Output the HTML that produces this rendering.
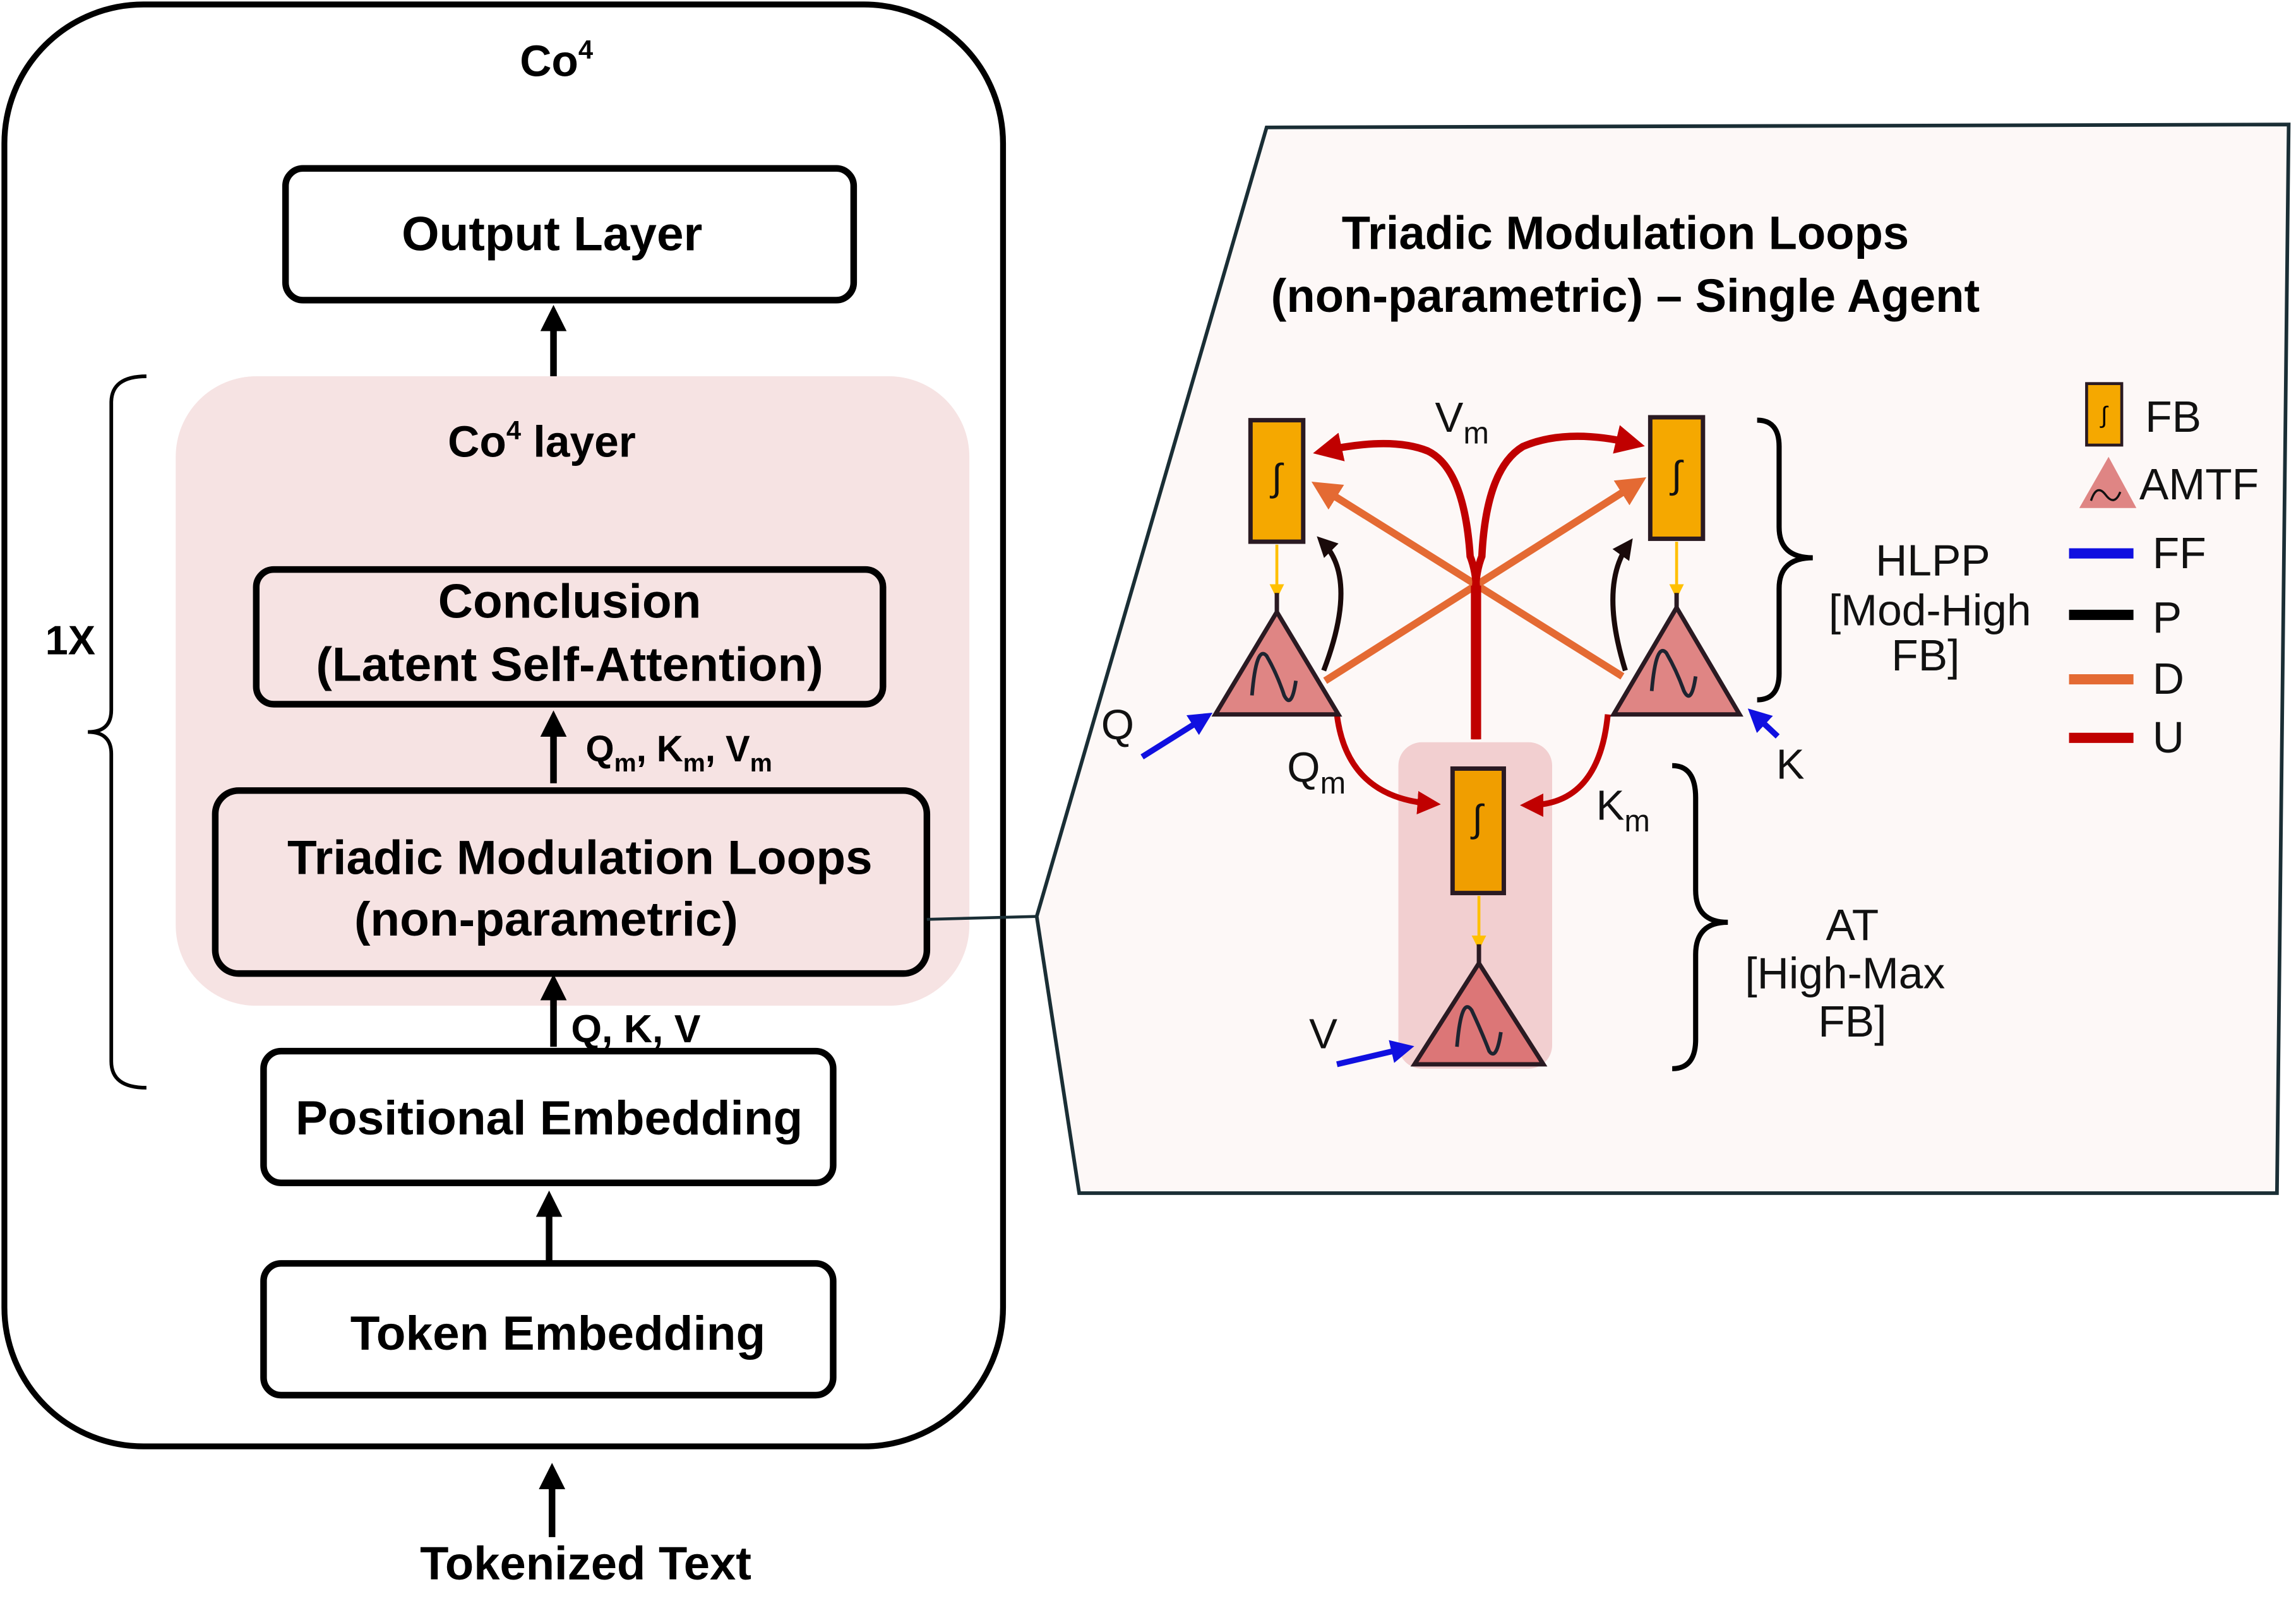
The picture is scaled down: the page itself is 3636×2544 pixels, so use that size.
<!DOCTYPE html>
<html><head><meta charset="utf-8"><style>html,body{margin:0;padding:0;background:#fff}svg{display:block}</style></head>
<body>
<svg width="3636" height="2544" viewBox="0 0 1568 1097" xmlns="http://www.w3.org/2000/svg" font-family="Liberation Sans, DejaVu Sans, sans-serif">
<defs>
<marker id="ab" markerWidth="4" markerHeight="4" refX="2.5" refY="2" orient="auto" markerUnits="strokeWidth"><path d="M0,0 L4,2 L0,4 z" fill="#000"/></marker>
<marker id="ar" markerWidth="4" markerHeight="4" refX="2.5" refY="2" orient="auto" markerUnits="strokeWidth"><path d="M0,0 L4,2 L0,4 z" fill="#c00000"/></marker>
<marker id="ao" markerWidth="4" markerHeight="4" refX="2.5" refY="2" orient="auto" markerUnits="strokeWidth"><path d="M0,0 L4,2 L0,4 z" fill="#e46a33"/></marker>
<marker id="ak" markerWidth="4" markerHeight="4" refX="2.5" refY="2" orient="auto" markerUnits="strokeWidth"><path d="M0,0 L4,2 L0,4 z" fill="#1a0a0a"/></marker>
<marker id="abl" markerWidth="4" markerHeight="4" refX="2.5" refY="2" orient="auto" markerUnits="strokeWidth"><path d="M0,0 L4,2 L0,4 z" fill="#1010e0"/></marker>
<marker id="ay" markerWidth="5" markerHeight="5" refX="3" refY="2.5" orient="auto" markerUnits="strokeWidth"><path d="M0,0 L5,2.5 L0,5 z" fill="#ffc000"/></marker>
</defs>
<rect width="1568" height="1097" fill="#fff"/>
<!-- left panel -->
<rect x="3" y="3" width="682" height="985" rx="95" fill="#fff" stroke="#000" stroke-width="4"/>
<text x="380" y="52" font-size="30" font-weight="bold" text-anchor="middle">Co<tspan font-size="18" dy="-12">4</tspan></text>
<rect x="195" y="115" width="388" height="90" rx="12" fill="#fff" stroke="#000" stroke-width="4.5"/>
<text x="377" y="171" font-size="33" font-weight="bold" text-anchor="middle">Output Layer</text>
<line x1="378" y1="257" x2="378" y2="215" stroke="#000" stroke-width="4.5" marker-end="url(#ab)"/>
<path d="M100,257 Q76,257 76,275 L76,485 Q76,500 60,500 Q76,500 76,515 L76,725 Q76,743 100,743" fill="none" stroke="#000" stroke-width="2.5"/>
<text x="48" y="447" font-size="28" font-weight="bold" text-anchor="middle">1X</text>
<rect x="120" y="257" width="542" height="430" rx="55" fill="#f6e3e3"/>
<text x="370" y="312" font-size="30" font-weight="bold" text-anchor="middle">Co<tspan font-size="18" dy="-12">4</tspan><tspan dy="12"> layer</tspan></text>
<rect x="175" y="389" width="428" height="92" rx="12" fill="#f6e3e3" stroke="#000" stroke-width="4.5"/>
<text x="389" y="422" font-size="33" font-weight="bold" text-anchor="middle">Conclusion</text>
<text x="389" y="465" font-size="33" font-weight="bold" text-anchor="middle">(Latent Self-Attention)</text>
<line x1="378" y1="535" x2="378" y2="492" stroke="#000" stroke-width="4.5" marker-end="url(#ab)"/>
<text x="400" y="520" font-size="25" font-weight="bold">Q<tspan font-size="17" dy="7">m</tspan><tspan dy="-7">, K</tspan><tspan font-size="17" dy="7">m</tspan><tspan dy="-7">, V</tspan><tspan font-size="17" dy="7">m</tspan></text>
<rect x="147" y="540" width="486" height="125" rx="16" fill="#f6e3e3" stroke="#000" stroke-width="4.5"/>
<text x="396" y="597" font-size="33" font-weight="bold" text-anchor="middle">Triadic Modulation Loops</text>
<text x="373" y="639" font-size="33" font-weight="bold" text-anchor="middle">(non-parametric)</text>
<line x1="378" y1="715" x2="378" y2="672" stroke="#000" stroke-width="4.5" marker-end="url(#ab)"/>
<text x="390" y="712" font-size="27" font-weight="bold">Q, K, V</text>
<rect x="180" y="718" width="389" height="90" rx="12" fill="#fff" stroke="#000" stroke-width="4.5"/>
<text x="375" y="775" font-size="33" font-weight="bold" text-anchor="middle">Positional Embedding</text>
<line x1="375" y1="861" x2="375" y2="820" stroke="#000" stroke-width="4.5" marker-end="url(#ab)"/>
<rect x="180" y="863" width="389" height="90" rx="12" fill="#fff" stroke="#000" stroke-width="4.5"/>
<text x="381" y="922" font-size="33" font-weight="bold" text-anchor="middle">Token Embedding</text>
<line x1="377" y1="1050" x2="377" y2="1006" stroke="#000" stroke-width="4.5" marker-end="url(#ab)"/>
<text x="400" y="1079" font-size="32" font-weight="bold" text-anchor="middle">Tokenized Text</text>
<line x1="633" y1="628" x2="708" y2="626" stroke="#1a2e35" stroke-width="2"/>
<!-- right panel -->
<polygon points="865,87 1563,85 1555,815 737,815 708,626" fill="#fdf8f7" stroke="#1a2e35" stroke-width="2.5"/>
<text x="1110" y="170" font-size="32" font-weight="bold" text-anchor="middle">Triadic Modulation Loops</text>
<text x="1110" y="213" font-size="32" font-weight="bold" text-anchor="middle">(non-parametric) – Single Agent</text>
<rect x="955" y="507" width="105" height="223" rx="16" fill="#f2cfd0"/>
<!-- orange D -->
<line x1="905" y1="465" x2="1118" y2="330" stroke="#e46a33" stroke-width="5" marker-end="url(#ao)"/>
<line x1="1108" y1="462" x2="902" y2="333" stroke="#e46a33" stroke-width="5" marker-end="url(#ao)"/>
<!-- red U trunk -->
<path d="M1008,505 L1008,420 Q1006,395 1012,380 Q1015,320 1040,305 Q1070,292 1116,303" fill="none" stroke="#c00000" stroke-width="5" marker-end="url(#ar)"/>
<path d="M1008,505 L1008,420 Q1010,395 1004,380 Q1000,320 975,308 Q950,298 904,308" fill="none" stroke="#c00000" stroke-width="5" marker-end="url(#ar)"/>
<line x1="1008" y1="505" x2="1008" y2="400" stroke="#c00000" stroke-width="7"/>
<path d="M913,488 Q920,545 978,549" fill="none" stroke="#c00000" stroke-width="4" marker-end="url(#ar)"/>
<path d="M1098,488 Q1092,550 1044,550" fill="none" stroke="#c00000" stroke-width="4" marker-end="url(#ar)"/>
<!-- black P -->
<path d="M904,458 Q928,395 903,370" fill="none" stroke="#1a0a0a" stroke-width="3.5" marker-end="url(#ak)"/>
<path d="M1110,458 Q1092,400 1112,372" fill="none" stroke="#1a0a0a" stroke-width="3.5" marker-end="url(#ak)"/>
<!-- FB boxes -->
<g stroke="#2a1a22" stroke-width="3">
<rect x="854" y="287" width="36" height="83" fill="#f5a800"/>
<rect x="1127" y="285" width="36" height="83" fill="#f5a800"/>
<rect x="992" y="525" width="35" height="85" fill="#f09e00"/>
</g>
<g font-size="26" text-anchor="middle" fill="#111"><text x="872" y="335">∫</text><text x="1145" y="333">∫</text><text x="1009" y="568">∫</text></g>
<!-- yellow arrows -->
<g stroke="#ffc000" stroke-width="2" marker-end="url(#ay)"><line x1="872" y1="372" x2="872" y2="405"/><line x1="1145" y1="370" x2="1145" y2="405"/><line x1="1010" y1="612" x2="1010" y2="645"/></g>
<!-- triangles -->
<g stroke="#2a1a22" stroke-width="3" fill="#df8584">
<line x1="872" y1="405" x2="872" y2="418"/><line x1="1145" y1="405" x2="1145" y2="415"/><line x1="1010" y1="645" x2="1010" y2="658"/>
<polygon points="872,418 830,488 914,488"/>
<polygon points="1145,415 1102,488 1188,488"/>
<polygon fill="#dc7677" points="1010,658 966,727 1054,727"/>
</g>
<g fill="none" stroke="#1e2430" stroke-width="2.5">
<path d="M855,475 Q858,440 865,448 Q872,460 877,475 Q882,485 885,465"/>
<path d="M1128,472 Q1131,438 1138,446 Q1145,458 1150,472 Q1155,482 1158,462"/>
<path d="M995,715 Q998,680 1005,690 Q1012,705 1017,718 Q1022,725 1025,705"/>
</g>
<!-- blue FF -->
<g stroke="#1010e0" stroke-width="4" marker-end="url(#abl)"><line x1="780" y1="517" x2="823" y2="490"/><line x1="1214" y1="503" x2="1198" y2="488"/><line x1="913" y1="727" x2="960" y2="716"/></g>
<!-- labels -->
<g font-size="29" fill="#111">
<text x="752" y="505">Q</text>
<text x="879" y="534">Q<tspan font-size="21" dy="8">m</tspan></text>
<text x="980" y="295">V<tspan font-size="21" dy="8">m</tspan></text>
<text x="1213" y="532">K</text>
<text x="1090" y="560">K<tspan font-size="21" dy="8">m</tspan></text>
<text x="894" y="716">V</text>
</g>
<!-- braces -->
<path d="M1200,287 Q1215,287 1215,305 L1215,360 Q1215,381 1238,381 Q1215,381 1215,402 L1215,460 Q1215,478 1200,478" fill="none" stroke="#000" stroke-width="3.5"/>
<path d="M1142,523 Q1158,523 1158,545 L1158,608 Q1158,630 1180,630 Q1158,630 1158,652 L1158,710 Q1158,730 1142,730" fill="none" stroke="#000" stroke-width="3.5"/>
<g font-size="30" fill="#111" text-anchor="middle">
<text x="1320" y="393">HLPP</text><text x="1318" y="427">[Mod-High</text><text x="1315" y="458">FB]</text>
<text x="1265" y="642">AT</text><text x="1260" y="675">[High-Max</text><text x="1265" y="708">FB]</text>
</g>
<!-- legend -->
<rect x="1425" y="262" width="24" height="42" fill="#f5a800" stroke="#2a1a22" stroke-width="2"/>
<text x="1437" y="289" font-size="16" text-anchor="middle">∫</text>
<polygon points="1440,312 1420,347 1459,347" fill="#df8584"/>
<path d="M1428,342 Q1432,330 1438,338 Q1444,346 1448,336" fill="none" stroke="#111" stroke-width="1.5"/>
<g font-size="30" fill="#111">
<text x="1465" y="295">FB</text><text x="1461" y="341">AMTF</text>
<text x="1470" y="388">FF</text><text x="1470" y="432">P</text><text x="1470" y="474">D</text><text x="1470" y="514">U</text>
</g>
<g stroke-width="7"><line x1="1413" y1="378" x2="1457" y2="378" stroke="#1010e0"/><line x1="1413" y1="420" x2="1457" y2="420" stroke="#000"/><line x1="1413" y1="464" x2="1457" y2="464" stroke="#e46a33"/><line x1="1413" y1="504" x2="1457" y2="504" stroke="#c00000"/></g>
</svg>
</body></html>
